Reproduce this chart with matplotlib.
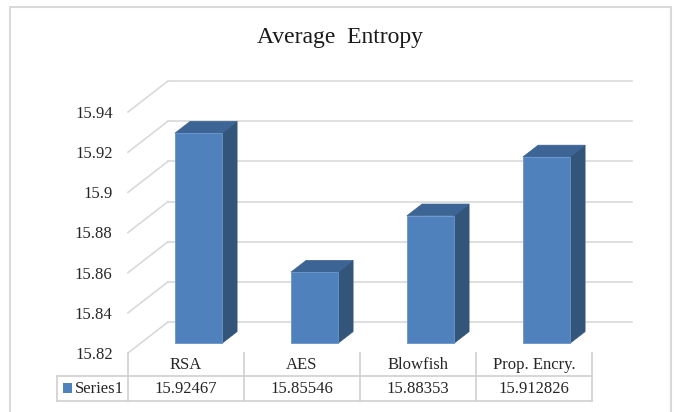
import matplotlib
matplotlib.use("Agg")
import matplotlib.pyplot as plt
from matplotlib.patches import Polygon, Rectangle

# --- Data ---
categories = ["RSA", "AES", "Blowfish", "Prop. Encry."]
entropy = [15.92467, 15.85546, 15.88353, 15.912826]
series_name = "Series1"
chart_title = "Average  Entropy"
y_ticks = [15.82, 15.84, 15.86, 15.88, 15.90, 15.92, 15.94]

# --- Style ---
FRONT = "#4F81BD"
SIDE = "#335579"
TOP = "#3C6494"
GRID = "#D9D9D9"
TABLE = "#CFCFCF"
SERIF = ["Liberation Serif", "DejaVu Serif"]

W, H = 675, 412
plt.rcParams["font.family"] = SERIF
fig = plt.figure(figsize=(W / 100, H / 100), dpi=100)

# front plane of the 3D box, in pixels
left, right, top, bottom = 128, 592, 112, 353
y_min, y_max = y_ticks[0], y_ticks[-1]
n = len(categories)

ax = fig.add_axes([left / W, 1 - bottom / H, (right - left) / W, (bottom - top) / H])
ax.set_xlim(0, n)
ax.set_ylim(y_min, y_max)
ax.patch.set_visible(False)
for s in ax.spines.values():
    s.set_visible(False)

# depth of the box (pixels) expressed in data units
dx = 40 * n / (right - left)
dy = 31 * (y_max - y_min) / (bottom - top)


def ypx(py):
    """pixel row -> value on the front plane"""
    return y_min + (bottom - py) * (y_max - y_min) / (bottom - top)


def xpx(px):
    return (px - left) * n / (right - left)


# back wall gridlines and side-wall diagonals
for v in y_ticks:
    ax.plot([dx, n + dx], [v + dy, v + dy], color=GRID, lw=1.2, clip_on=False, zorder=1)
    ax.plot([0, dx], [v, v + dy], color=GRID, lw=1.2, clip_on=False, zorder=1)

# 3D bars
bw = 0.405
t0, t1 = 0.31, 0.69
for i, v in enumerate(entropy):
    x0 = i + 0.5 - bw / 2
    fx, fy = x0 + t0 * dx, y_min + t0 * dy
    bx, by = (t1 - t0) * dx, (t1 - t0) * dy
    h = v - y_min
    side = Polygon([(fx + bw, fy), (fx + bw, fy + h), (fx + bw + bx, fy + h + by),
                    (fx + bw + bx, fy + by)], closed=True, fc=SIDE, ec=SIDE, lw=0.5,
                   clip_on=False, zorder=3)
    topf = Polygon([(fx, fy + h), (fx + bw, fy + h), (fx + bw + bx, fy + h + by),
                    (fx + bx, fy + h + by)], closed=True, fc=TOP, ec=TOP, lw=0.5,
                   clip_on=False, zorder=3)
    front = Rectangle((fx, fy), bw, h, fc=FRONT, ec="#6A95CC", lw=0.6,
                      clip_on=False, zorder=4)
    for p in (side, topf, front):
        ax.add_patch(p)

ax.set_xticks([])
ax.set_yticks(y_ticks)
ax.set_yticklabels([f"{t:g}" for t in y_ticks], fontfamily=SERIF, fontsize=12, color="#262626")
ax.tick_params(axis="y", length=0, pad=11)

# data table under the plot
x_left = xpx(57)
row_top, row_mid, row_bot = ypx(353), ypx(376), ypx(401)
for yy in (row_mid, row_bot):
    ax.plot([x_left, n], [yy, yy], color=TABLE, lw=1.2, clip_on=False)
ax.plot([x_left, x_left], [row_mid, row_bot], color=TABLE, lw=1.2, clip_on=False)
for k in range(n + 1):
    ax.plot([k, k], [row_top, row_bot], color=TABLE, lw=1.2, clip_on=False)

txt = dict(fontfamily=SERIF, fontsize=12, color="#262626", va="center", clip_on=False)
for i, (c, v) in enumerate(zip(categories, entropy)):
    ax.text(i + 0.5, ypx(365), c, ha="center", **txt)
    ax.text(i + 0.5, ypx(389), str(v), ha="center", **txt)

ax.add_patch(Rectangle((xpx(63), ypx(393)), xpx(72) - xpx(63), ypx(383) - ypx(393),
                       fc=FRONT, ec="none", clip_on=False))
ax.text(xpx(75), ypx(389), series_name, ha="left", **txt)

fig.text(340 / W, 1 - 38 / H, chart_title, ha="center", va="center",
         fontfamily=SERIF, fontsize=17, color="#1a1a1a")

# outer chart border
fig.add_artist(Rectangle((10 / W, -0.05), (671 - 10) / W, 1.05 - 7 / H,
                         transform=fig.transFigure, fill=False, ec=GRID, lw=1.5))

fig.savefig("out.png", dpi=100)
